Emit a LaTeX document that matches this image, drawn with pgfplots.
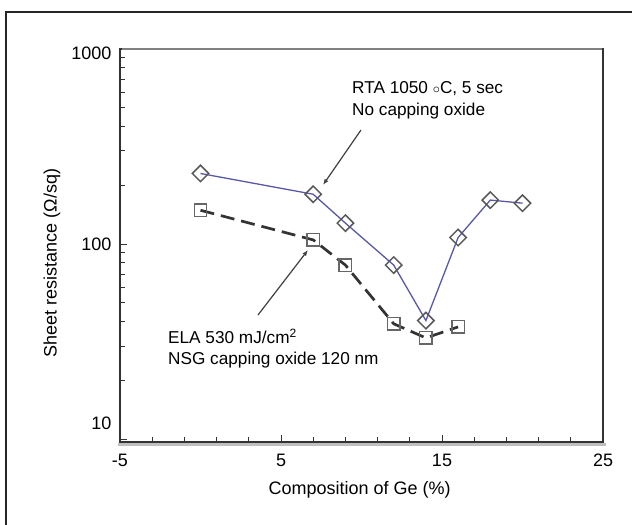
\documentclass[border=0pt]{standalone}
\usepackage{fontspec}
\setmainfont{Liberation Sans}
\usepackage{pgfplots}
\pgfplotsset{compat=1.18}
\usetikzlibrary{arrows.meta}
\definecolor{rtablue}{RGB}{88,88,168}
\begin{document}
\begin{tikzpicture}[x=1bp,y=1bp]
\useasboundingbox (0,0) rectangle (632,525);
\draw[black!85, line width=1.5bp] (6,0) -- (6,513) -- (632,513);
\draw[black!25, line width=3bp] (118,80.5) -- (606,80.5);
\begin{axis}[
  at={(120bp,83bp)}, anchor=south west,
  width=483bp, height=393bp, scale only axis,
  xmin=-5, xmax=25, ymode=log, ymin=9.66, ymax=1000,
  xtick={-5,5,15,25}, xticklabels={-5,5,15,25},
  minor xtick={-3,-1,1,3,7,9,11,13,17,19,21,23},
  ytick={10,100,1000}, yticklabels={,,},
  minor ytick={20,30,40,50,60,70,80,90,200,300,400,500,600,700,800,900},
  extra y ticks={954,100,12.1}, extra y tick labels={1000,100,10},
  extra y tick style={major tick length=0pt},
  tick pos=left, tick align=inside,
  major tick length=7bp, minor tick length=5bp,
  tick style={black!80, line width=1bp},
  axis line style={black!80, line width=2.5bp},
  tick label style={font=\fontsize{18bp}{22bp}\selectfont},
  label style={font=\fontsize{18bp}{22bp}\selectfont},
  xticklabel style={yshift=-8.5bp},
  yticklabel style={xshift=-5bp},
  xlabel={Composition of Ge (\%)},
  ylabel={Sheet resistance (Ω/sq)},
  xlabel style={at={(axis description cs:0.496,-0.122)}, anchor=center},
  ylabel style={at={(axis description cs:-0.1408,0.4555)}, anchor=center, rotate=0},
  clip=false,
]
\addplot[black!80, line width=2.7bp, dash pattern=on 14bp off 7bp,
  mark=square, mark size=6.2bp,
  mark options={solid, fill=white, draw=black!60, line width=1.5bp}]
  coordinates {(0,149) (7,105) (9,78) (12,39) (14,33) (16,37.6)};
\addplot[rtablue, line width=1.3bp,
  mark=square, mark size=5.8bp,
  mark options={rotate=45, solid, fill=white, draw=black!65, line width=1.5bp}]
  coordinates {(0,230) (7,180) (9,128) (12,78) (14,40.5) (16,108) (18,168) (20,162)};
\end{axis}
\draw[black!50, line width=2.5bp] (121.5,476) -- (601.5,476);
\begin{scope}[font=\fontsize{17.2bp}{21bp}\selectfont]
\node[anchor=base west, inner sep=0] at (352,431) {RTA 1050 \raisebox{0.8bp}{\fontsize{15bp}{15bp}\selectfont$\circ$}C, 5 sec};
\node[anchor=base west, inner sep=0] at (352,409) {No capping oxide};
\node[anchor=base west, inner sep=0] at (168,181) {ELA 530 mJ/cm\textsuperscript{2}};
\node[anchor=base west, inner sep=0] at (168,160) {NSG capping oxide 120 nm};
\end{scope}
\draw[black!75, line width=1.2bp, -{Latex[length=6bp,width=4.5bp]}] (361,395) -- (323,340);
\draw[black!75, line width=1.2bp, -{Latex[length=6bp,width=4.5bp]}] (258,210) -- (308,275);
\end{tikzpicture}
\end{document}
